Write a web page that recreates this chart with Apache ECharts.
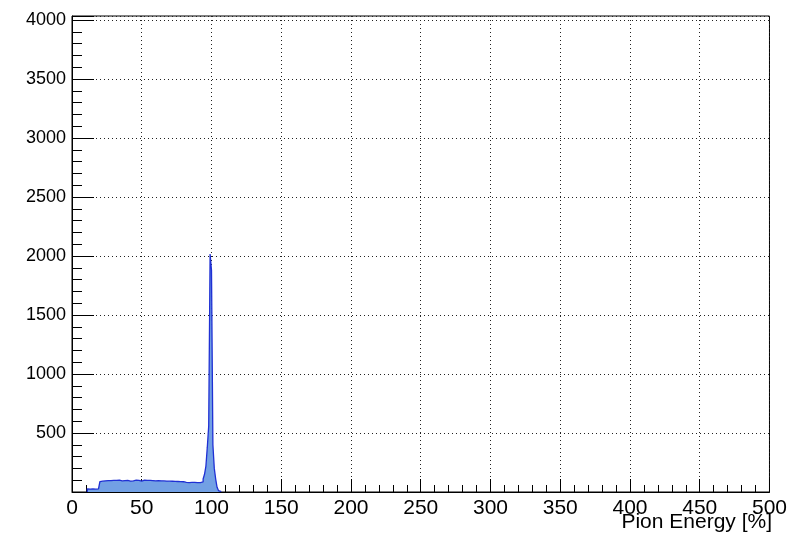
<!DOCTYPE html>
<html>
<head>
<meta charset="utf-8">
<script src="https://cdn.jsdelivr.net/npm/echarts@6/dist/echarts.min.js"></script>
<style>html,body{margin:0;padding:0;background:#fff}#c{width:790px;height:533px}</style>
</head>
<body>
<div id="c"></div>
<script>
// Histogram: 1-unit wide bins; first bin low edge and counts
const firstBinLowEdge = 11;
const binWidth = 1;
const counts = [
  27,25,30,26,28,24,29,27,31,               // 11-19
  88,92,90,95,93,97,91,96,94,99,            // 20-29
  95,98,93,100,96,94,99,97,92,98,           // 30-39
  96,93,99,95,97,100,94,98,96,93,           // 40-49
  97,101,95,99,96,98,94,97,100,95,          // 50-59
  93,96,92,95,90,94,91,93,89,92,            // 60-69
  88,91,87,90,86,89,85,88,84,87,            // 70-79
  85,82,86,80,84,81,78,82,76,79,            // 80-89
  75,80,78,85,110,150,220,380,560,2017,     // 90-99
  1880,400,200,110,40,12,3                  // 100-106
];
const xTicks = [0,50,100,150,200,250,300,350,400,450,500];
const yTicks = [500,1000,1500,2000,2500,3000,3500,4000];
const xTitle = 'Pion Energy [%]';

const pts = [[firstBinLowEdge, 0]];
counts.forEach((v, i) => pts.push([firstBinLowEdge + i * binWidth, v]));
pts.push([firstBinLowEdge + counts.length * binWidth, 0]);

const font = 'Liberation Sans, Arial, Helvetica, sans-serif';
const chart = echarts.init(document.getElementById('c'), null, {renderer: 'canvas'});
chart.setOption({
  animation: false,
  backgroundColor: '#fff',
  title: {
    text: xTitle, right: 18, top: 512, padding: 0,
    textStyle: {fontFamily: font, fontSize: 21, fontWeight: 'normal', color: '#000'}
  },
  grid: {left: 72, right: 17, top: 16, bottom: 41, show: true, borderColor: '#000', borderWidth: 1},
  xAxis: {
    type: 'value', min: xTicks[0], max: xTicks[xTicks.length - 1], interval: 50,
    axisLine: {show: true, onZero: false, lineStyle: {color: '#000', width: 1}},
    axisTick: {show: true, inside: true, length: 13, lineStyle: {color: '#000'}},
    minorTick: {show: true, splitNumber: 5, length: 7, lineStyle: {color: '#000'}},
    splitLine: {show: true, lineStyle: {color: '#222', type: [1, 3], width: 1}},
    axisLabel: {
      margin: 6, fontFamily: font, fontSize: 21, color: '#000',
      formatter: v => xTicks.includes(v) ? String(v) : ''
    }
  },
  yAxis: {
    type: 'value', min: 0, max: 4035, interval: 500,
    axisLine: {show: true, lineStyle: {color: '#000', width: 1}},
    axisTick: {show: true, inside: true, length: 22, lineStyle: {color: '#000'}},
    minorTick: {show: true, splitNumber: 5, length: 10, lineStyle: {color: '#000'}},
    splitLine: {show: true, lineStyle: {color: '#222', type: [1, 3], width: 1}},
    axisLabel: {
      margin: 6, fontFamily: font, fontSize: 18, color: '#000',
      showMinLabel: false, showMaxLabel: false,
      formatter: v => yTicks.includes(v) ? String(v) : ''
    }
  },
  series: [{
    type: 'line', step: 'end', symbol: 'none', data: pts,
    lineStyle: {color: '#1f30d4', width: 1.3},
    areaStyle: {color: '#72a0e4', opacity: 1}
  }]
});
</script>
</body>
</html>
